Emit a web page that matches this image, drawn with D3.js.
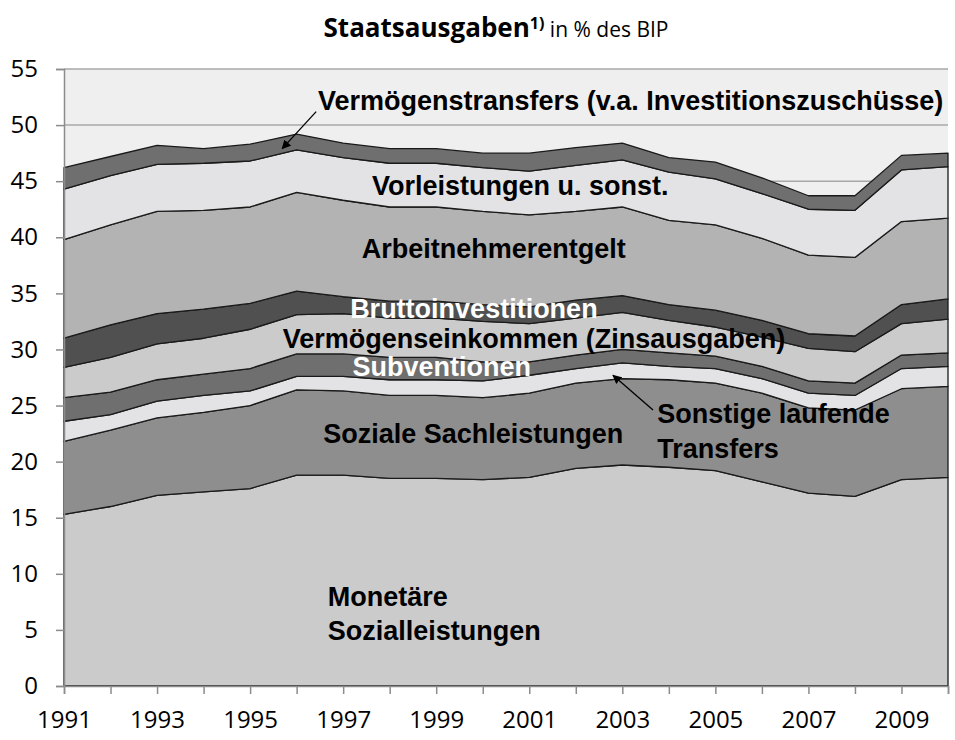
<!DOCTYPE html>
<html>
<head>
<meta charset="utf-8">
<script src="https://cdn.jsdelivr.net/npm/d3@7"></script>
<style>
  body { margin: 0; background: #fff; }
  svg { display: block; }
  .tick text { font-family: "Open Sans", sans-serif; font-size: 24px; fill: #000; }
  .lbl { font-family: "Liberation Sans", Arial, sans-serif; font-weight: bold; font-size: 27px; }
</style>
</head>
<body>
<svg width="955" height="740"></svg>
<script>
//Years on the x axis
var years = [1991, 1992, 1993, 1994, 1995, 1996, 1997, 1998, 1999, 2000,
             2001, 2002, 2003, 2004, 2005, 2006, 2007, 2008, 2009, 2010];

//Each component in % of GDP, bottom layer first
var monetaereSozialleistungen = [15.3, 16.0, 17.0, 17.3, 17.6, 18.8, 18.8, 18.5, 18.5, 18.4, 18.6, 19.4, 19.7, 19.5, 19.2, 18.2, 17.2, 16.9, 18.4, 18.6];
var sozialeSachleistungen     = [6.5, 6.8, 6.9, 7.1, 7.4, 7.6, 7.5, 7.4, 7.4, 7.3, 7.5, 7.6, 7.7, 7.8, 7.8, 7.9, 7.6, 7.7, 8.1, 8.1];
var sonstigeTransfers         = [1.8, 1.4, 1.5, 1.5, 1.3, 1.2, 1.3, 1.4, 1.4, 1.5, 1.6, 1.3, 1.4, 1.2, 1.3, 1.3, 1.3, 1.3, 1.8, 1.8];
var subventionen              = [2.1, 2.0, 1.9, 1.9, 2.0, 2.0, 2.0, 2.0, 2.0, 1.7, 1.2, 1.2, 1.2, 1.2, 1.1, 1.1, 1.1, 1.1, 1.2, 1.2];
var vermoegenseinkommen       = [2.7, 3.1, 3.2, 3.2, 3.5, 3.5, 3.6, 3.5, 3.5, 3.6, 3.4, 3.3, 3.3, 2.9, 2.6, 2.6, 2.9, 2.8, 2.8, 3.0];
var bruttoinvestitionen       = [2.6, 2.9, 2.7, 2.6, 2.3, 2.1, 1.5, 1.5, 1.5, 1.5, 1.5, 1.6, 1.5, 1.4, 1.5, 1.5, 1.3, 1.4, 1.7, 1.8];
var arbeitnehmerentgelt       = [8.8, 8.9, 9.1, 8.8, 8.6, 8.8, 8.6, 8.4, 8.4, 8.3, 8.2, 7.9, 7.9, 7.5, 7.6, 7.3, 7.0, 7.0, 7.4, 7.2];
var vorleistungen             = [4.5, 4.4, 4.2, 4.2, 4.1, 3.8, 3.8, 3.9, 3.9, 3.9, 3.9, 4.1, 4.2, 4.3, 4.1, 4.0, 4.1, 4.2, 4.6, 4.6];
var vermoegenstransfers       = [1.9, 1.7, 1.7, 1.3, 1.5, 1.4, 1.3, 1.3, 1.3, 1.3, 1.6, 1.6, 1.5, 1.3, 1.5, 1.4, 1.2, 1.3, 1.3, 1.2];

var seriesKeys = ["mon", "sach", "sonst", "subv", "verm", "brutto", "arbeit", "vorl", "vt"];
var seriesValues = [monetaereSozialleistungen, sozialeSachleistungen, sonstigeTransfers, subventionen,
                    vermoegenseinkommen, bruttoinvestitionen, arbeitnehmerentgelt, vorleistungen, vermoegenstransfers];
var seriesColors = ["#cbcbcb", "#8e8e8e", "#e3e3e5", "#6f6f6f", "#cbcbcb", "#4f504f", "#b3b3b3", "#e3e3e5", "#6f6f6f"];

var yTicks = [0, 5, 10, 15, 20, 25, 30, 35, 40, 45, 50, 55];

//build rows for d3.stack
var rows = years.map(function(yr, i) {
    var row = { year: yr };
    seriesKeys.forEach(function(k, j) { row[k] = seriesValues[j][i]; });
    return row;
});

var svg = d3.select("svg");
var x = d3.scaleLinear().domain([1991, 2010]).range([64, 948]);
var y = d3.scaleLinear().domain([0, 55]).range([686, 69]);

//plot background
svg.append("rect").attr("x", x(1991)).attr("y", y(55))
    .attr("width", x(2010) - x(1991)).attr("height", y(0) - y(55))
    .attr("fill", "#efefef");

//gridlines
svg.append("g").selectAll("line").data(yTicks.slice(1)).join("line")
    .attr("x1", x(1991)).attr("x2", x(2010))
    .attr("y1", function(d) { return y(d); }).attr("y2", function(d) { return y(d); })
    .attr("stroke", "#a8a8a8").attr("stroke-width", 1.5);

var stacked = d3.stack().keys(seriesKeys)(rows);
var area = d3.area()
    .x(function(d) { return x(d.data.year); })
    .y0(function(d) { return y(d[0]); })
    .y1(function(d) { return y(d[1]); });

svg.append("g").selectAll("path").data(stacked).join("path")
    .attr("d", area)
    .attr("fill", function(d, i) { return seriesColors[i]; })
    .attr("stroke", "#1a1a1a").attr("stroke-width", 1.3)
    .attr("stroke-linejoin", "round");

//axes
var yAxis = svg.append("g").attr("transform", "translate(" + x(1991) + ",0)")
    .call(d3.axisLeft(y).tickValues(yTicks).tickSize(8).tickPadding(18));
var xAxis = svg.append("g").attr("transform", "translate(0," + y(0) + ")")
    .call(d3.axisBottom(x).tickValues(years).tickSize(8).tickPadding(17)
        .tickFormat(function(d) { return d % 2 === 1 ? d : ""; }));
[yAxis, xAxis].forEach(function(ax) {
    ax.select(".domain").attr("stroke", "#8c8c8c").attr("stroke-width", 1.5);
    ax.selectAll(".tick line").attr("stroke", "#8c8c8c").attr("stroke-width", 1.5);
});

//title
var title = svg.append("text").attr("x", 496).attr("y", 37).attr("text-anchor", "middle")
    .style("font-family", "'Open Sans', sans-serif");
title.append("tspan").text("Staatsausgaben").attr("font-weight", "bold").attr("font-size", 26);
title.append("tspan").text("1)").attr("font-weight", "bold").attr("font-size", 16).attr("dy", -8);
title.append("tspan").text(" in % des BIP").attr("font-size", 21).attr("dy", 8);

//labels inside the chart (positioned in data coordinates)
var labels = [
    { t: "Vermögenstransfers (v.a. Investitionszuschüsse)", yr: 1996.46, v: 52.2, c: "#000" },
    { t: "Vorleistungen u. sonst.", yr: 1997.62, v: 44.6, c: "#000" },
    { t: "Arbeitnehmerentgelt", yr: 1997.4, v: 39.0, c: "#000" },
    { t: "Bruttoinvestitionen", yr: 1997.15, v: 33.7, c: "#fff" },
    { t: "Vermögenseinkommen (Zinsausgaben)", yr: 1995.7, v: 31.0, c: "#000" },
    { t: "Subventionen", yr: 1997.2, v: 28.5, c: "#fff" },
    { t: "Soziale Sachleistungen", yr: 1996.57, v: 22.5, c: "#000" },
    { t: "Sonstige laufende", yr: 2003.75, v: 24.3, c: "#000" },
    { t: "Transfers", yr: 2003.75, v: 21.2, c: "#000" },
    { t: "Monetäre", yr: 1996.67, v: 8.0, c: "#000" },
    { t: "Sozialleistungen", yr: 1996.67, v: 5.0, c: "#000" }
];
svg.append("g").selectAll("text").data(labels).join("text")
    .attr("class", "lbl")
    .attr("x", function(d) { return x(d.yr); })
    .attr("y", function(d) { return y(d.v); })
    .attr("dy", "0.36em")
    .attr("fill", function(d) { return d.c; })
    .text(function(d) { return d.t; });

//arrows
svg.append("defs").append("marker").attr("id", "arr")
    .attr("viewBox", "0 0 10 10").attr("refX", 9).attr("refY", 5)
    .attr("markerWidth", 7).attr("markerHeight", 7).attr("orient", "auto")
    .append("path").attr("d", "M0,0L10,5L0,10z").attr("fill", "#000");
var arrows = [
    { x1: 1996.42, v1: 51.2, x2: 1995.69, v2: 47.9 },
    { x1: 2003.66, v1: 24.6, x2: 2002.8, v2: 27.7 }
];
svg.append("g").selectAll("line").data(arrows).join("line")
    .attr("x1", function(d) { return x(d.x1); }).attr("y1", function(d) { return y(d.v1); })
    .attr("x2", function(d) { return x(d.x2); }).attr("y2", function(d) { return y(d.v2); })
    .attr("stroke", "#000").attr("stroke-width", 1.3)
    .attr("marker-end", "url(#arr)");
</script>
</body>
</html>
